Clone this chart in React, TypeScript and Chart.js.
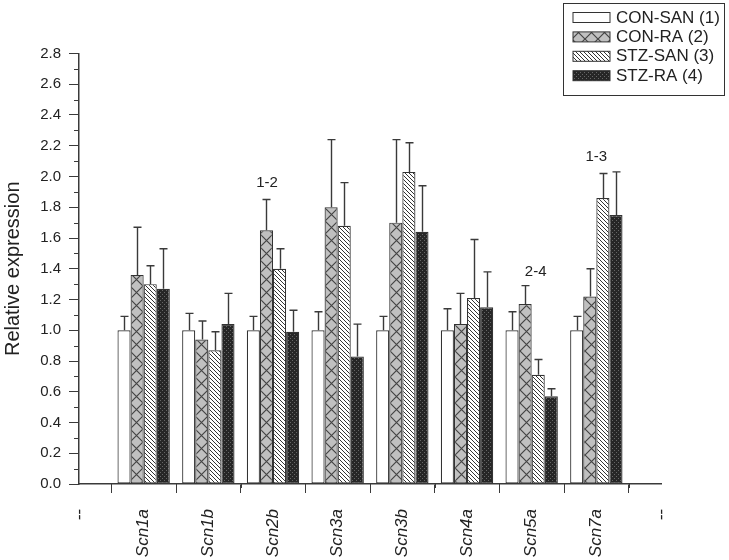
import React, { useEffect, useRef } from 'react';
import { Chart, registerables } from 'chart.js';

Chart.register(...registerables);

// ---------- data ----------
const genes = ['Scn1a', 'Scn1b', 'Scn2b', 'Scn3a', 'Scn3b', 'Scn4a', 'Scn5a', 'Scn7a'];
const categoryLabels = ['--', ...genes, '--'];
const seriesNames = ['CON-SAN (1)', 'CON-RA (2)', 'STZ-SAN (3)', 'STZ-RA (4)'];

const conSan = [1.0, 1.0, 1.0, 1.0, 1.0, 1.0, 1.0, 1.0];
const conSanErr = [0.09, 0.11, 0.09, 0.12, 0.09, 0.14, 0.12, 0.09];
const conRa = [1.36, 0.94, 1.65, 1.8, 1.7, 1.04, 1.17, 1.22];
const conRaErr = [0.31, 0.12, 0.2, 0.44, 0.54, 0.2, 0.12, 0.18];
const stzSan = [1.3, 0.87, 1.4, 1.68, 2.03, 1.21, 0.71, 1.86];
const stzSanErr = [0.12, 0.12, 0.13, 0.28, 0.19, 0.38, 0.1, 0.16];
const stzRa = [1.27, 1.04, 0.99, 0.83, 1.64, 1.15, 0.57, 1.75];
const stzRaErr = [0.26, 0.2, 0.14, 0.21, 0.3, 0.23, 0.05, 0.28];

const yMin = 0;
const yMax = 2.8;
const yStep = 0.2;

const annotationGenes = ['Scn2b', 'Scn5a', 'Scn7a'];
const annotationTexts = ['1-2', '2-4', '1-3'];
const annotationLevels = [1.96, 1.38, 2.13];

// ---------- styles ----------
const FONT = '"Liberation Sans", Arial, sans-serif';
const INK = '#222';
const AXIS = '#3a3a3a';
const annotationShift = [-6, 4, 0];

function makePattern(kind: string): CanvasPattern | string {
  const c = document.createElement('canvas');
  const ctx = c.getContext('2d')!;
  if (kind === 'cross') {
    c.width = 13; c.height = 13;
    ctx.fillStyle = '#c0c0c0';
    ctx.fillRect(0, 0, 13, 13);
    ctx.strokeStyle = '#444';
    ctx.lineWidth = 1.2;
    ctx.beginPath();
    ctx.moveTo(0, 0); ctx.lineTo(13, 13);
    ctx.moveTo(13, 0); ctx.lineTo(0, 13);
    ctx.stroke();
  } else if (kind === 'hatch') {
    c.width = 4; c.height = 4;
    ctx.fillStyle = '#fff';
    ctx.fillRect(0, 0, 4, 4);
    ctx.fillStyle = '#333';
    for (let i = 0; i < 4; i++) ctx.fillRect(i, i, 1, 1);
  } else if (kind === 'dots') {
    c.width = 4; c.height = 4;
    ctx.fillStyle = '#262626';
    ctx.fillRect(0, 0, 4, 4);
    ctx.fillStyle = '#666';
    ctx.fillRect(0, 0, 1, 1);
    ctx.fillRect(2, 2, 1, 1);
  } else {
    return '#ffffff';
  }
  return ctx.createPattern(c, 'repeat')!;
}

const errorsBySeries = [conSanErr, conRaErr, stzSanErr, stzRaErr];

const errorBarPlugin = {
  id: 'errorBars',
  afterDatasetsDraw(chart: any) {
    const ctx = chart.ctx;
    const yScale = chart.scales.y;
    ctx.save();
    ctx.strokeStyle = AXIS;
    ctx.lineWidth = 1.4;
    chart.data.datasets.forEach((ds: any, i: number) => {
      const meta = chart.getDatasetMeta(i);
      meta.data.forEach((el: any, j: number) => {
        const v = ds.data[j];
        if (v === null || v === undefined) return;
        const err = errorsBySeries[i][j - 1];
        const yTop = yScale.getPixelForValue(v + err);
        const x = Math.round(el.x) + 0.5;
        ctx.beginPath();
        ctx.moveTo(x, el.y);
        ctx.lineTo(x, yTop);
        ctx.moveTo(x - 4, yTop);
        ctx.lineTo(x + 4, yTop);
        ctx.stroke();
      });
    });
    ctx.restore();
  },
};

const decorPlugin = {
  id: 'decor',
  afterDraw(chart: any) {
    const ctx = chart.ctx;
    const xS = chart.scales.x;
    const yS = chart.scales.y;
    const area = chart.chartArea;
    ctx.save();
    // minor ticks
    ctx.strokeStyle = AXIS;
    ctx.lineWidth = 1;
    ctx.beginPath();
    for (let v = yMin + yStep / 2; v < yMax; v += yStep) {
      const y = Math.round(yS.getPixelForValue(v)) + 0.5;
      ctx.moveTo(area.left - 5, y);
      ctx.lineTo(area.left, y);
    }
    for (let k = 0; k < categoryLabels.length - 1; k++) {
      const x = Math.round((xS.getPixelForValue(k) + xS.getPixelForValue(k + 1)) / 2) + 0.5;
      ctx.moveTo(x, area.bottom);
      ctx.lineTo(x, area.bottom + 4);
    }
    ctx.stroke();

    // annotations
    ctx.fillStyle = INK;
    ctx.font = `15px ${FONT}`;
    ctx.textAlign = 'center';
    ctx.textBaseline = 'middle';
    annotationGenes.forEach((g, i) => {
      const idx = categoryLabels.indexOf(g);
      const x = xS.getPixelForValue(idx) + annotationShift[i];
      const y = yS.getPixelForValue(annotationLevels[i]);
      ctx.fillText(annotationTexts[i], x, y);
    });

    // legend
    const bx = 563.5, by = 3.5, bw = 161, bh = 92;
    ctx.fillStyle = '#fff';
    ctx.fillRect(bx, by, bw, bh);
    ctx.strokeStyle = '#333';
    ctx.lineWidth = 1;
    ctx.strokeRect(bx, by, bw, bh);
    ctx.font = `17px ${FONT}`;
    ctx.textAlign = 'left';
    ctx.textBaseline = 'middle';
    chart.data.datasets.forEach((ds: any, i: number) => {
      const sy = 12.5 + i * 19.4;
      ctx.fillStyle = ds.backgroundColor;
      ctx.fillRect(573, sy, 37, 10);
      ctx.strokeStyle = '#333';
      ctx.strokeRect(573, sy, 37, 10);
      ctx.fillStyle = INK;
      ctx.fillText(ds.label, 616, sy + 5.5);
    });
    ctx.restore();
  },
};

export default function App() {
  const ref = useRef<HTMLCanvasElement>(null);
  useEffect(() => {
    if (!ref.current) return;
    const fills = [makePattern('white'), makePattern('cross'), makePattern('hatch'), makePattern('dots')];
    const values = [conSan, conRa, stzSan, stzRa];
    const chart = new Chart(ref.current, {
      type: 'bar',
      data: {
        labels: categoryLabels,
        datasets: values.map((vals, i) => ({
          label: seriesNames[i],
          data: [null, ...vals, null],
          backgroundColor: fills[i] as any,
          borderColor: '#333',
          borderWidth: 1.2,
          borderSkipped: false,
          categoryPercentage: 0.81,
          barPercentage: 1,
        })),
      },
      options: {
        responsive: false,
        animation: false,
        devicePixelRatio: 1,
        layout: { padding: { top: 53.5, right: 68, left: 0, bottom: 0 } },
        plugins: { legend: { display: false }, tooltip: { enabled: false } },
        scales: {
          x: {
            type: 'category',
            offset: false,
            grid: { display: true, drawOnChartArea: false, drawTicks: true, tickLength: 9, color: AXIS, lineWidth: 1 },
            border: { display: true, color: AXIS, width: 1.5 },
            ticks: {
              autoSkip: false,
              maxRotation: 90,
              minRotation: 90,
              padding: 16,
              color: INK,
              font: { family: FONT, size: 17, style: 'italic' },
            },
            afterFit: (s: any) => { s.height = 76; },
          },
          y: {
            min: yMin,
            max: yMax,
            grid: { display: true, drawOnChartArea: false, drawTicks: true, tickLength: 10, color: AXIS, lineWidth: 1 },
            border: { display: true, color: AXIS, width: 1.5 },
            ticks: {
              stepSize: yStep,
              padding: 8,
              color: INK,
              font: { family: FONT, size: 15 },
              callback: (v: any) => Number(v).toFixed(1),
            },
            title: {
              display: true,
              text: 'Relative expression',
              color: INK,
              font: { family: FONT, size: 20 },
              padding: { top: 1, bottom: 0 },
            },
            afterFit: (s: any) => { s.width = 79; },
          },
        },
      },
      plugins: [errorBarPlugin, decorPlugin],
    });
    return () => chart.destroy();
  }, []);
  return (
    <div style={{ position: 'fixed', left: 0, top: 0, width: 729, height: 560, background: '#fff' }}>
      <canvas ref={ref} width={729} height={560} />
    </div>
  );
}
